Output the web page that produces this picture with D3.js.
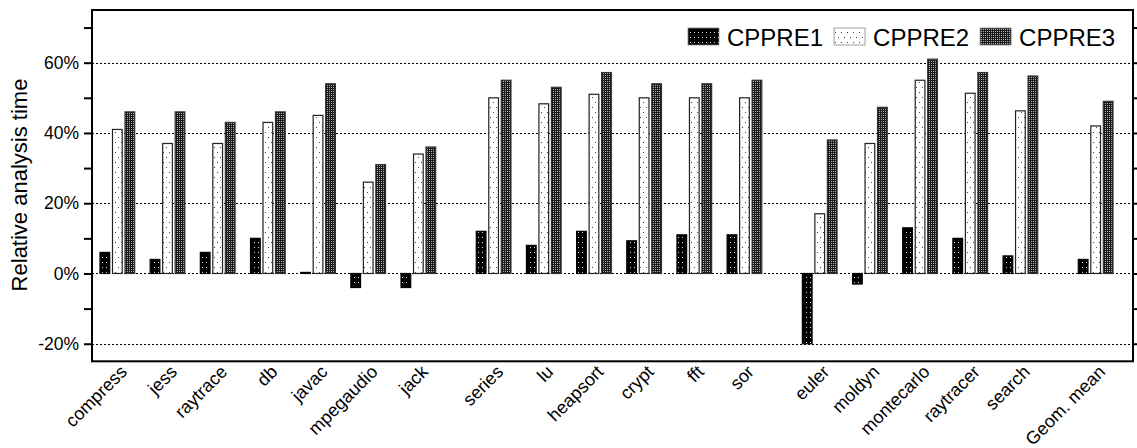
<!DOCTYPE html>
<html>
<head>
<meta charset="utf-8">
<script src="https://cdn.jsdelivr.net/npm/d3@7"></script>
<style>
  html, body { margin: 0; padding: 0; background: #fff; }
  svg { display: block; }
  text { font-family: "Liberation Sans", Arial, Helvetica, sans-serif; fill: #000; }
</style>
</head>
<body>
<svg id="chart" width="1137" height="448"></svg>
<script>
// Benchmarks, in plotting order
const categories = ["compress", "jess", "raytrace", "db", "javac", "mpegaudio", "jack",
  "series", "lu", "heapsort", "crypt", "fft", "sor",
  "euler", "moldyn", "montecarlo", "raytracer", "search",
  "Geom. mean"];
// Suite each benchmark belongs to (a half-slot gap separates suites)
const suites = [0, 0, 0, 0, 0, 0, 0, 1, 1, 1, 1, 1, 1, 2, 2, 2, 2, 2, 3];

const seriesNames = ["CPPRE1", "CPPRE2", "CPPRE3"];
// Relative analysis time, percent
const cppre1 = [6, 4, 6, 10, 0.3, -4, -4, 12, 8, 12, 9.3, 11, 11, -20, -3, 13, 10, 5, 4];
const cppre2 = [41, 37, 37, 43, 45, 26, 34, 50, 48.3, 51, 50, 50, 50, 17, 37, 55, 51.3, 46.3, 42];
const cppre3 = [46, 46, 43, 46, 54, 31, 36, 55, 53, 57.2, 54, 54, 55, 38, 47.3, 61, 57.2, 56.2, 49];

const yTicks = [-20, -10, 0, 10, 20, 30, 40, 50, 60, 70];
const yLabelTicks = [-20, 0, 20, 40, 60];

const svg = d3.select("#chart");
const plotLeft = 92, plotRight = 1133, plotTop = 10, plotBottom = 361.3;

// ---- fill patterns ----
const defs = svg.append("defs");
// CPPRE1: black with sparse light dots
const p1 = defs.append("pattern").attr("id", "pat1").attr("patternUnits", "userSpaceOnUse")
  .attr("width", 4).attr("height", 5);
p1.append("rect").attr("width", 4).attr("height", 5).attr("fill", "#000");
p1.append("rect").attr("x", 2).attr("y", 2).attr("width", 1).attr("height", 1).attr("fill", "#e0e0e0");
// CPPRE2: white with sparse staggered dark dots
const p2 = defs.append("pattern").attr("id", "pat2").attr("patternUnits", "userSpaceOnUse")
  .attr("width", 6).attr("height", 10);
p2.append("rect").attr("width", 6).attr("height", 10).attr("fill", "#fff");
p2.append("rect").attr("x", 1).attr("y", 2).attr("width", 1).attr("height", 1).attr("fill", "#444");
p2.append("rect").attr("x", 4).attr("y", 7).attr("width", 1).attr("height", 1).attr("fill", "#444");
// CPPRE3: dense fine checker on black
const p3 = defs.append("pattern").attr("id", "pat3").attr("patternUnits", "userSpaceOnUse")
  .attr("width", 2).attr("height", 2);
p3.append("rect").attr("width", 2).attr("height", 2).attr("fill", "#1a1a1a");
p3.append("rect").attr("x", 1).attr("y", 1).attr("width", 1).attr("height", 1).attr("fill", "#b0b0b0");

const fills = ["url(#pat1)", "url(#pat2)", "url(#pat3)"];
const strokes = ["#000", "#222", "#333"];

// ---- scales ----
const positions = categories.map((c, i) => i + 0.5 * suites[i]);
const x = d3.scaleLinear().domain([0, 19.5]).range([100, 1078.3]);
const sub = d3.scaleBand().domain(seriesNames).range([0, 34.7]).paddingInner(0.224);
const y = d3.scaleLinear().domain([-25, 75]).range([plotBottom, plotTop]);

// ---- dotted grid ----
svg.append("g").selectAll("line").data(yLabelTicks).join("line")
  .attr("x1", plotLeft).attr("x2", plotRight)
  .attr("y1", d => Math.round(y(d)) + 0.5).attr("y2", d => Math.round(y(d)) + 0.5)
  .attr("stroke", "#000").attr("stroke-width", 1).attr("stroke-dasharray", "2,2");

// ---- bars ----
const seriesValues = [cppre1, cppre2, cppre3];
const rows = [];
categories.forEach((c, i) => {
  seriesNames.forEach((s, k) => rows.push({ cat: c, pos: positions[i], s, k, v: seriesValues[k][i] }));
});
svg.append("g").selectAll("rect").data(rows).join("rect")
  .attr("x", d => x(d.pos) + sub(d.s))
  .attr("width", sub.bandwidth())
  .attr("y", d => y(Math.max(0, d.v)))
  .attr("height", d => Math.max(1, Math.abs(y(d.v) - y(0))))
  .attr("fill", d => fills[d.k])
  .attr("stroke", d => strokes[d.k])
  .attr("stroke-width", 1.2);

// ---- axes ----
const yAxisL = d3.axisLeft(y).tickValues(yTicks).tickSize(8).tickPadding(5)
  .tickFormat(d => yLabelTicks.includes(d) ? d + "%" : "");
const gL = svg.append("g").attr("transform", `translate(${plotLeft},0)`).call(yAxisL);
gL.select(".domain").remove();
gL.selectAll(".tick line").attr("stroke-width", 2);
gL.selectAll(".tick text").style("font-size", "17.5px").style("font-family", "'Liberation Sans', Arial, sans-serif");

const yAxisR = d3.axisRight(y).tickValues(yTicks).tickSize(8).tickFormat("");
const gR = svg.append("g").attr("transform", `translate(${plotRight},0)`).call(yAxisR);
gR.select(".domain").remove();
gR.selectAll(".tick line").attr("stroke-width", 2);

// frame
svg.append("rect").attr("x", plotLeft).attr("y", plotTop)
  .attr("width", plotRight - plotLeft).attr("height", plotBottom - plotTop)
  .attr("fill", "none").attr("stroke", "#000").attr("stroke-width", 2);

// ---- category labels ----
svg.append("g").selectAll("text").data(categories).join("text")
  .attr("transform", (d, i) => `translate(${x(positions[i]) + 28},373) rotate(-45)`)
  .attr("text-anchor", "end")
  .style("font-size", "18px")
  .text(d => d);

// ---- y title ----
svg.append("text")
  .attr("transform", "translate(27,185) rotate(-90)")
  .attr("text-anchor", "middle")
  .style("font-size", "22px")
  .text("Relative analysis time");

// ---- legend ----
const lg = svg.append("g");
let lx = 688;
seriesNames.forEach((s, k) => {
  lg.append("rect").attr("x", lx).attr("y", 28).attr("width", 31).attr("height", 17)
    .attr("fill", fills[k]).attr("stroke", "#888").attr("stroke-width", 0.8);
  const t = lg.append("text").attr("x", lx + 39).attr("y", 45.5)
    .style("font-size", "24px").text(s);
  lx += 39 + t.node().getComputedTextLength() + 11;
});
</script>
</body>
</html>
